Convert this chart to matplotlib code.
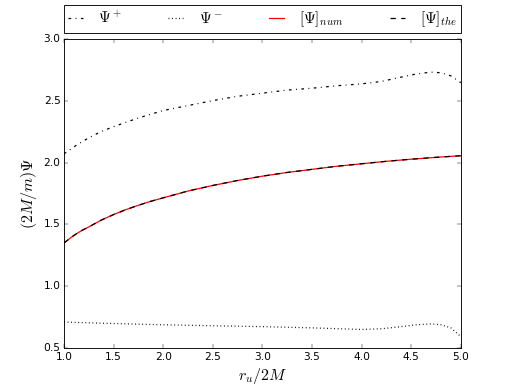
import matplotlib
matplotlib.use("Agg")
import matplotlib.pyplot as plt
import numpy as np

plt.style.use('classic')

x_plus = [1.0, 1.125, 1.25, 1.375, 1.5, 1.75, 2.0, 2.25, 2.5, 2.75, 3.0, 3.25, 3.5, 3.75, 4.0, 4.2, 4.4, 4.55, 4.7, 4.8, 4.9, 5.0]
psi_plus = [2.07, 2.14, 2.20, 2.25, 2.29, 2.36, 2.42, 2.46, 2.50, 2.535, 2.56, 2.585, 2.60, 2.62, 2.635, 2.655, 2.69, 2.715, 2.73, 2.725, 2.70, 2.645]

x_minus = [1.0, 1.5, 2.0, 2.5, 3.0, 3.5, 4.0, 4.2, 4.4, 4.55, 4.7, 4.8, 4.9, 5.0]
psi_minus = [0.712, 0.70, 0.69, 0.682, 0.675, 0.665, 0.652, 0.658, 0.675, 0.69, 0.697, 0.69, 0.665, 0.595]

x_num = [1.0, 1.0625, 1.125, 1.1875, 1.25, 1.375, 1.5, 1.625, 1.75, 1.875, 2.0, 2.25, 2.5, 2.75, 3.0, 3.25, 3.5, 3.75, 4.0, 4.25, 4.5, 4.75, 5.0]
psi_num = [1.35, 1.39, 1.425, 1.455, 1.48, 1.535, 1.58, 1.62, 1.655, 1.687, 1.715, 1.77, 1.815, 1.855, 1.89, 1.92, 1.945, 1.97, 1.99, 2.01, 2.027, 2.042, 2.055]

fig = plt.figure(figsize=(8, 6.046875), dpi=64)
ax = fig.add_axes([0.125, 0.1, 0.775, 0.8])
lw = 1.4
ax.plot(x_plus, psi_plus, 'k-.', lw=lw, label=r'$\Psi^+$')
ax.plot(x_minus, psi_minus, 'k:', lw=lw, label=r'$\Psi^-$')
ax.plot(x_num, psi_num, '-', color='red', lw=lw, label=r'$[\Psi]_{num}$')
ax.plot(x_num, psi_num, 'k--', lw=lw, label=r'$[\Psi]_{the}$')
ax.set_xlim(1.0, 5.0)
ax.set_ylim(0.5, 3.0)
ax.set_xlabel(r'$r_u/2M$', fontsize=18)
ax.set_ylabel(r'$(2M/m)\Psi$', fontsize=18)
ax.legend(bbox_to_anchor=(0., 1.02, 1., .085), loc=3, ncol=4, mode="expand",
          borderaxespad=0., fontsize=17, numpoints=1, borderpad=0.25,
          handlelength=1.0, handletextpad=1.0)
fig.savefig('out.png', dpi=64)
